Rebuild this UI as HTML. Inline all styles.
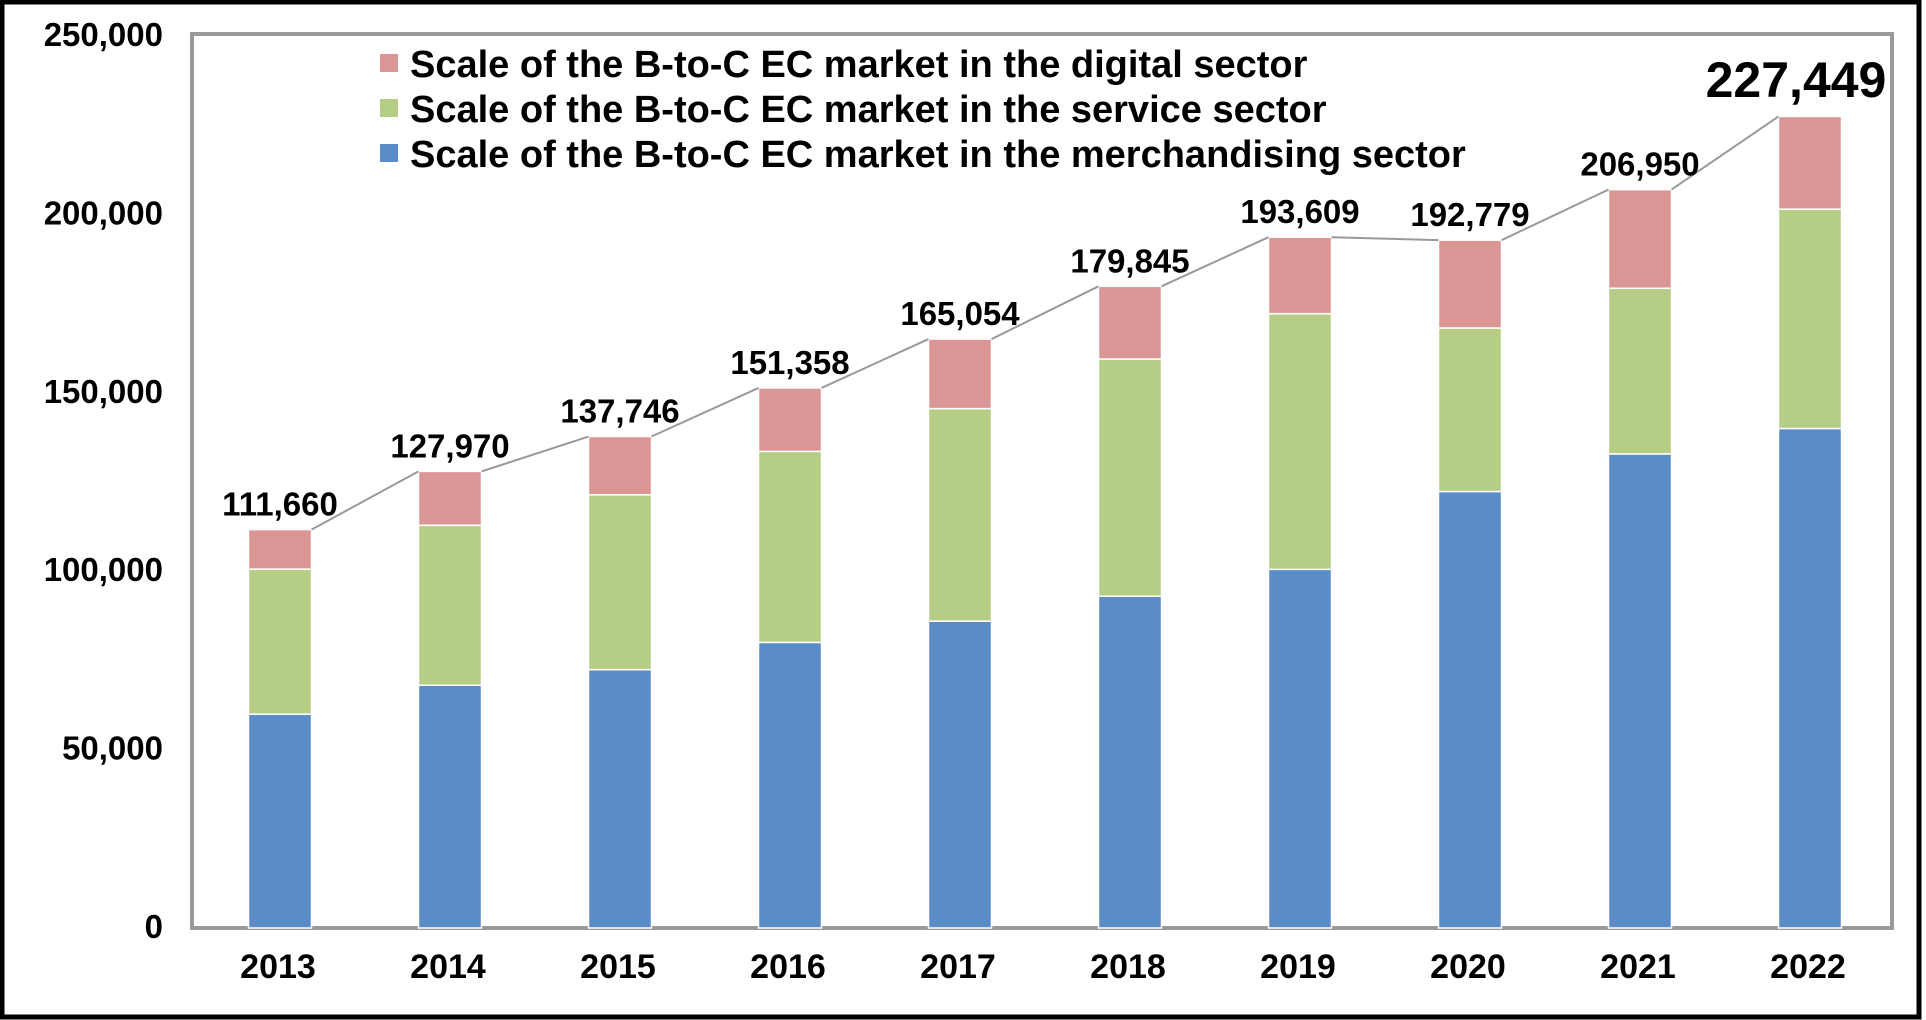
<!DOCTYPE html>
<html><head><meta charset="utf-8"><style>
html,body{margin:0;padding:0;background:#fff}
svg{display:block;font-family:"Liberation Sans",Arial,sans-serif;font-weight:bold}
</style></head><body>
<svg id="chart" width="1926" height="1020" xmlns="http://www.w3.org/2000/svg">
<rect x="2" y="2" width="1917" height="1015" fill="#fff" stroke="#000" stroke-width="5"/>
<rect x="192" y="34" width="1700" height="894" fill="#fff" stroke="#999" stroke-width="4"/>
<g id="yticks"></g>
<g id="bars"></g>
<g id="lines"></g>
<g id="labels"></g>
<g>
  <rect x="380" y="54" width="18" height="18" fill="#d99694"/>
  <text x="410" y="77" font-size="38">Scale of the B-to-C EC market in the digital sector</text>
  <rect x="380" y="99" width="18" height="18" fill="#b5cd84"/>
  <text x="410" y="122" font-size="38">Scale of the B-to-C EC market in the service sector</text>
  <rect x="380" y="144" width="18" height="18" fill="#5b8cc8"/>
  <text x="410" y="167" font-size="38">Scale of the B-to-C EC market in the merchandising sector</text>
</g>
</svg>
<script>
const years = ["2013","2014","2015","2016","2017","2018","2019","2020","2021","2022"];
const merch = [59931,68043,72398,80043,86008,92992,100515,122333,132865,139997];
const service = [40657,44816,49014,53532,59568,66471,71672,45832,46424,61477];
const digital = [11072,15111,16334,17782,19478,20382,21422,24614,27661,25974];
const totals = [111660,127970,137746,151358,165054,179845,193609,192779,206950,227449];
const yTicks = [0,50000,100000,150000,200000,250000];

const NS="http://www.w3.org/2000/svg";
const L=192,R=1892,T=36,B=928,YMAX=250000;
const band=(R-L)/years.length, bw=63;
const y=v=>B-(v/YMAX)*(B-T);
const xc=i=>L+band*(i+0.5)+3;
function mk(tag,attrs,parent){const e=document.createElementNS(NS,tag);for(const k in attrs)e.setAttribute(k,attrs[k]);parent.appendChild(e);return e;}
const gT=document.getElementById('yticks'),gB=document.getElementById('bars'),gL=document.getElementById('lines'),gLb=document.getElementById('labels');
const fmt=v=>v.toLocaleString('en-US');
yTicks.forEach(t=>{
  const e=mk('text',{x:163,y:y(t)+10,'text-anchor':'end','font-size':33},gT);
  e.textContent=fmt(t);
  
  
});
const series=[[merch,'#5b8cc8','merchandising'],[service,'#b5cd84','service'],[digital,'#d99694','digital']];
years.forEach((yr,i)=>{
  let base=0;
  series.forEach(([arr,col,nm])=>{
    const top=base+arr[i];
    const r=mk('rect',{x:xc(i)-bw/2,y:y(top),width:bw,height:Math.max(0,y(base)-y(top)),fill:col,stroke:'#fff','stroke-width':1.5},gB);
    
    
    base=top;
  });
  const yl=mk('text',{x:xc(i)-2,y:978,'text-anchor':'middle','font-size':34},gLb);
  yl.textContent=yr;
  
  
  const last=i===years.length-1;
  const tl=mk('text',{x:last?xc(i)-14:xc(i),y:last?97:y(totals[i])-14,'text-anchor':'middle','font-size':last?50:33},gLb);
  tl.textContent=fmt(totals[i]);
  
  
  if(i>0){
    const top0=merch[i-1]+service[i-1]+digital[i-1], top1=merch[i]+service[i]+digital[i];
    const ln=mk('line',{x1:xc(i-1)+bw/2,y1:y(top0),x2:xc(i)-bw/2,y2:y(top1),stroke:'#999','stroke-width':2},gL);
    
    
  }
});
</script>
</body></html>
